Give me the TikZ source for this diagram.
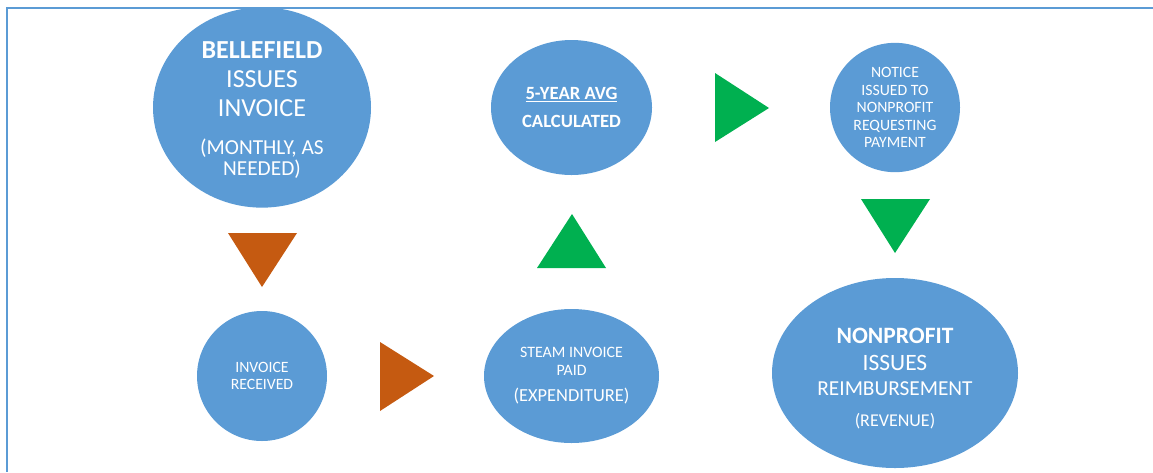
\documentclass[tikz,border=0pt]{standalone}
\usepackage{fontspec}
\setmainfont{Carlito}
\usetikzlibrary{shapes.geometric}

\definecolor{skyblue}{HTML}{5B9BD5}
\definecolor{rust}{HTML}{C55A11}
\definecolor{leaf}{HTML}{00B050}

\tikzset{bubble/.style={ellipse, fill=skyblue, text=white, align=center, inner sep=0pt}}

\begin{document}
\begin{tikzpicture}[x=0.75pt,y=-0.75pt]
\useasboundingbox (0,0) rectangle (1153,472);
\draw[skyblue, line width=1.5pt] (1153,8) -- (7,8) -- (7,472);

% top row
\node[bubble, minimum width=163.5pt, minimum height=146.25pt, font=\fontsize{19.5}{21.75}\selectfont] (bellefield) at (262,107.5)
  {\rule{0pt}{16pt}\textbf{BELLEFIELD}\\ ISSUES\\ INVOICE\\[6.75pt] {\fontsize{16}{16}\selectfont (MONTHLY, AS}\\[-5.75pt] {\fontsize{16}{16}\selectfont NEEDED)}};
\node[bubble, minimum width=120.75pt, minimum height=101.25pt, font=\bfseries\fontsize{14}{21}\selectfont] (avg) at (571.5,107.5)
  {\underline{5-YEAR AVG}\\ CALCULATED};
\node[bubble, minimum width=97.5pt, minimum height=97pt, font=\fontsize{11.8}{13.1}\selectfont] (notice) at (895,107.5)
  {NOTICE\\ ISSUED TO\\ NONPROFIT\\ REQUESTING\\ PAYMENT};

% bottom row
\node[bubble, minimum width=97.5pt, minimum height=97.5pt, font=\fontsize{11.8}{12.75}\selectfont] (received) at (262,376)
  {INVOICE\\ RECEIVED};
\node[bubble, minimum width=131.25pt, minimum height=100.5pt, font=\fontsize{11.9}{13.5}\selectfont] (paid) at (571.5,376)
  {STEAM INVOICE\\ PAID\\[5.85pt] {\fontsize{13.8}{13.8}\selectfont (EXPENDITURE)}};
\node[bubble, minimum width=184.5pt, minimum height=142.5pt, font=\fontsize{17.6}{20}\selectfont] (reimburse) at (895,373)
  {\rule{0pt}{20pt}\textbf{NONPROFIT}\\ ISSUES\\[-1.25pt] {\fontsize{16}{16}\selectfont REIMBURSEMENT}\\[3.3pt] {\fontsize{13.5}{13.5}\selectfont (REVENUE)}};

% arrows
\fill[rust] (228,233) -- (297,233) -- (262,287) -- cycle;
\fill[rust] (380,342) -- (380,411) -- (434,376) -- cycle;
\fill[leaf] (537,268) -- (606,268) -- (572,214) -- cycle;
\fill[leaf] (715,73) -- (715,142) -- (769,108) -- cycle;
\fill[leaf] (861,199) -- (930,199) -- (895,253) -- cycle;
\end{tikzpicture}
\end{document}
